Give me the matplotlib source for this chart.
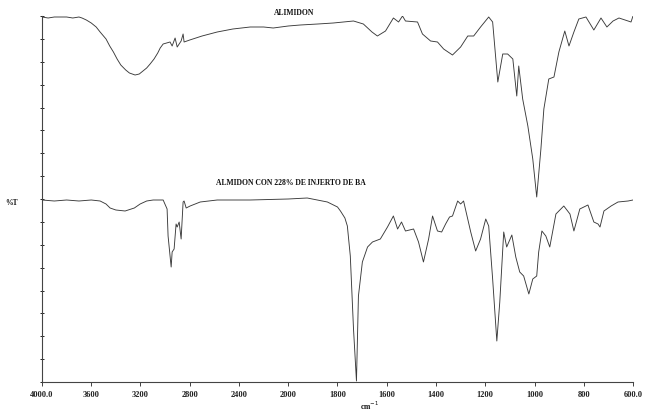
import numpy as np
import matplotlib
matplotlib.use("Agg")
import matplotlib.pyplot as plt

# ================================================================
# DATOS (leidos del espectro, %T en unidades arbitrarias 0-366)
# ================================================================
WN_ALIMIDON = [4000, 3950, 3900, 3850, 3800, 3750, 3700, 3675, 3640, 3600, 3560, 3528,
               3480, 3450, 3420, 3390, 3360, 3320, 3290, 3244, 3210, 3180, 3150, 3122,
               3090, 3060, 3040, 3016, 2960, 2943, 2919, 2902, 2870, 2854, 2846,
               2800, 2700, 2577, 2450, 2309, 2200, 2122, 2000, 1951, 1880, 1817, 1735,
               1695, 1660, 1638, 1605, 1573, 1552, 1536, 1524, 1475, 1455, 1422, 1394,
               1369, 1333, 1300, 1271, 1247, 1219, 1186, 1170, 1149, 1129, 1109, 1088,
               1072, 1064, 1048, 1027, 1007, 991, 974, 962, 942, 921, 901, 877,
               860, 840, 820, 791, 759, 730, 706, 681, 657, 620, 608, 600]
T_ALIMIDON = [365, 364, 365, 365, 365, 364, 365, 364, 362, 359, 355, 350,
              343, 336, 330, 323, 317, 312, 309, 307, 308, 311, 314, 318,
              323, 329, 334, 338, 340, 336, 344, 335, 341, 348, 340,
              342, 346, 350, 353, 355, 355, 354, 356, 357, 358, 359, 361,
              358, 350, 346, 351, 364, 360, 366, 361, 360, 348, 341, 340,
              333, 327, 335, 346, 346, 355, 365, 360, 300, 328, 328, 323,
              286, 316, 283, 256, 223, 185, 233, 273, 303, 305, 330, 351,
              336, 350, 363, 365, 352, 364, 355, 361, 364, 361, 360, 366]

WN_INJERTO = [4000, 3900, 3800, 3700, 3600, 3528, 3480, 3447, 3400, 3325, 3250, 3203,
              3150, 3097, 3016, 2984,
              2976, 2951, 2943, 2927, 2911, 2902, 2886, 2870, 2854, 2846, 2829, 2797,
              2715, 2577, 2309, 2000, 1923, 1841, 1800, 1788, 1770, 1760, 1748, 1735,
              1723, 1715, 1699, 1678, 1658, 1626, 1597, 1573, 1556, 1540, 1524, 1491,
              1471, 1451, 1430, 1414, 1394, 1377, 1361, 1345, 1333, 1312, 1300, 1288,
              1259, 1239, 1219, 1198, 1186, 1170, 1153, 1141, 1125, 1113, 1092, 1076,
              1060, 1044, 1023, 1007, 991, 983, 970, 954, 938, 913, 881, 856, 840,
              816, 783, 759, 742, 734, 718, 689, 661, 620, 600]
T_INJERTO = [182, 181, 182, 181, 182, 181, 178, 174, 172, 171, 174, 178,
             181, 182, 182, 173,
             146, 115, 130, 133, 158, 155, 160, 143, 180, 181, 174, 176,
             180, 182, 182, 183, 184, 180, 175, 171, 164, 156, 126, 53,
             1, 86, 120, 135, 140, 143, 155, 166, 153, 160, 151, 153,
             140, 120, 143, 166, 151, 150, 158, 165, 166, 181, 178, 181,
             150, 131, 143, 163, 156, 103, 41, 80, 150, 135, 147, 125,
             110, 106, 88, 103, 106, 130, 151, 146, 135, 168, 176, 168, 151,
             173, 177, 160, 158, 155, 171, 176, 180, 181, 182]

XTICKS = [4000, 3600, 3200, 2800, 2400, 2000, 1800, 1600, 1400, 1200, 1000, 800, 600]
XTICK_LABELS = ["4000.0", "3600", "3200", "2800", "2400", "2000", "1800", "1600",
                "1400", "1200", "1000", "800", "600.0"]


# Escala partida: por debajo de 2000 cm-1 la escala es el doble
def fwd(w):
    w = np.asarray(w, dtype=float)
    return np.where(w <= 2000, w, 2000 + (w - 2000) / 2)


def inv(p):
    p = np.asarray(p, dtype=float)
    return np.where(p <= 2000, p, 2000 + (p - 2000) * 2)


# ================================================================
# FIGURA
# ================================================================
fig = plt.figure(figsize=(6.48, 4.14), dpi=100)
ax = fig.add_axes([42 / 648, 31 / 414, 591 / 648, 366 / 414])

ax.plot(WN_ALIMIDON, T_ALIMIDON, color="#3a3a3a", lw=0.65)
ax.plot(WN_INJERTO, T_INJERTO, color="#3a3a3a", lw=0.65)

ax.set_xscale("function", functions=(fwd, inv))
ax.set_xlim(4000, 600)
ax.set_ylim(0, 366)

ax.set_xticks(XTICKS)
ax.set_xticklabels(XTICK_LABELS)
ax.set_yticks(np.linspace(0, 366, 17))
ax.set_yticklabels([])
ax.minorticks_off()

for s in ["top", "right"]:
    ax.spines[s].set_visible(False)
for s in ["left", "bottom"]:
    ax.spines[s].set_linewidth(0.8)
    ax.spines[s].set_color("#444444")

ax.tick_params(axis="x", direction="out", length=3, width=0.6, pad=3,
               labelsize=6, colors="#222222")
ax.tick_params(axis="y", direction="inout", length=3, width=0.6)
for lab in ax.get_xticklabels():
    lab.set_fontfamily("Liberation Serif")
    lab.set_fontweight("bold")

txt = dict(family="Liberation Serif", fontweight="bold", fontsize=5.5, color="#111111")
fig.text(294 / 648, 1 - 13 / 414, "ALIMIDON", ha="center", va="center", **txt)
fig.text(291 / 648, 1 - 183 / 414, "ALMIDON CON 228% DE INJERTO DE BA",
         ha="center", va="center", **txt)
fig.text(12 / 648, 1 - 203 / 414, "%T", ha="center", va="center", **txt)
fig.text(370 / 648, 1 - 406 / 414, "cm$^{-1}$", ha="center", va="center", **txt)

fig.savefig("out.png", dpi=100, facecolor="white")
